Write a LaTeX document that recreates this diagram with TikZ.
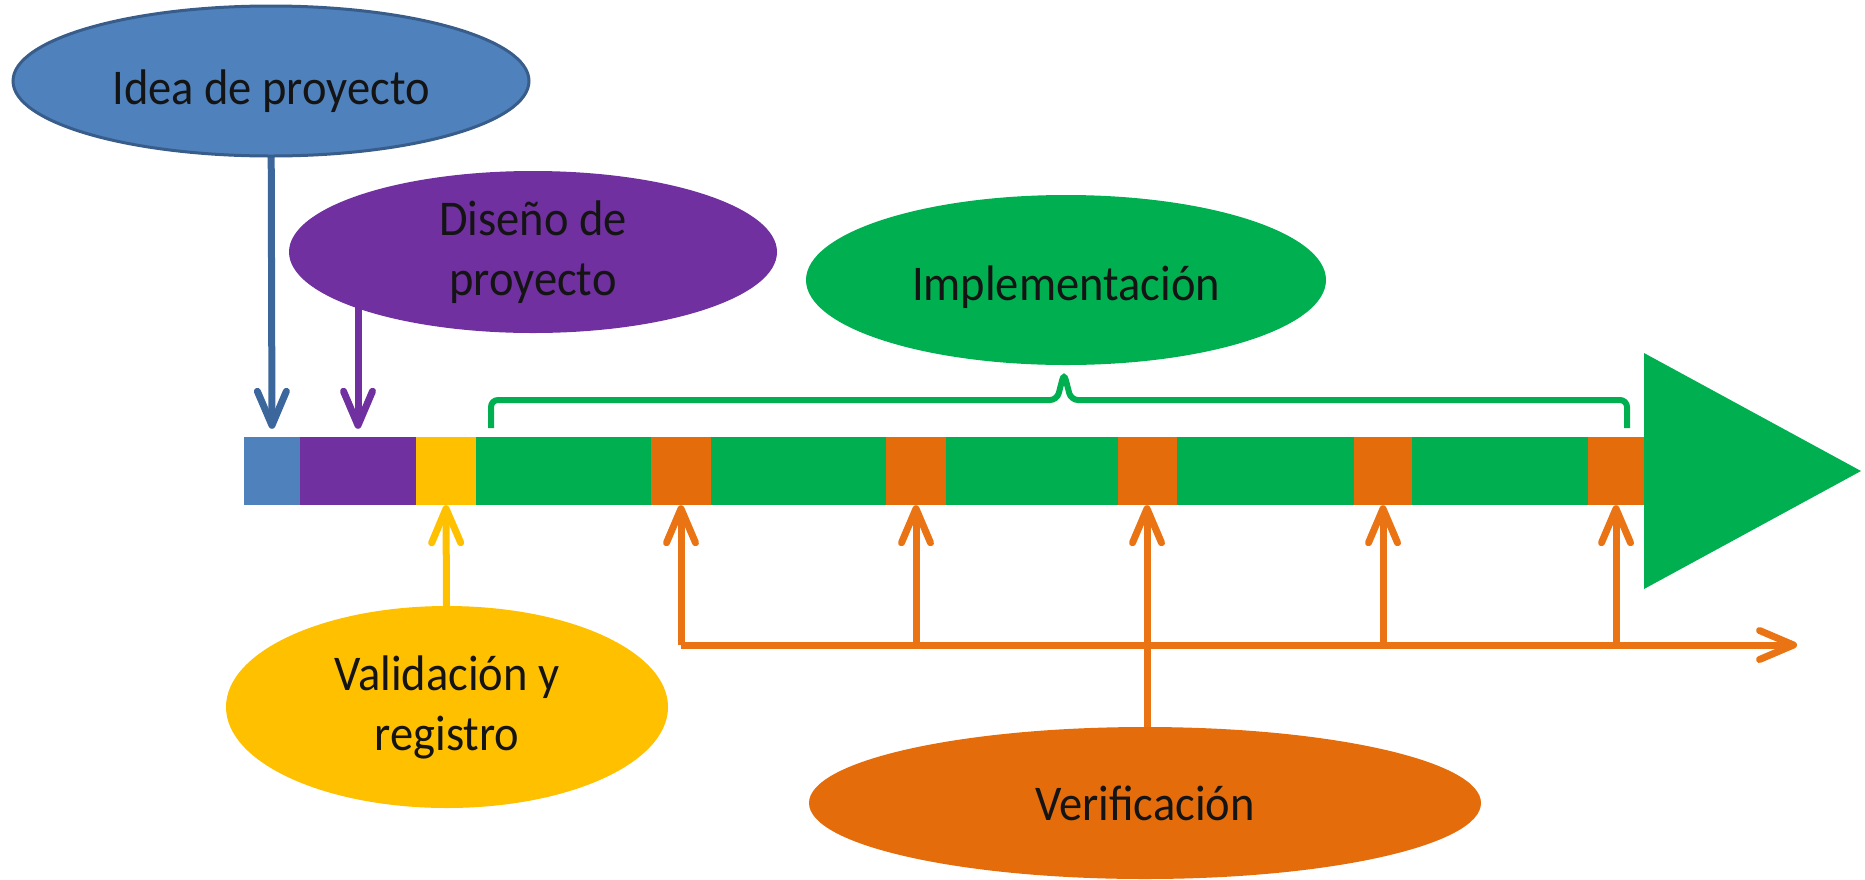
\documentclass[tikz,border=0pt]{standalone}
\usepackage{fontspec}
\setmainfont{Carlito}[FakeStretch=0.93]
\usetikzlibrary{shapes.geometric,arrows.meta,backgrounds}
\definecolor{cblue}{HTML}{4F81BD}
\definecolor{cblued}{HTML}{385D8A}
\definecolor{carrblue}{HTML}{3C679C}
\definecolor{cpurple}{HTML}{7030A0}
\definecolor{cyellow}{HTML}{FFC000}
\definecolor{cgreen}{HTML}{00B050}
\definecolor{corange}{HTML}{E46C0A}
\definecolor{carrow}{HTML}{EA7414}
\begin{document}
\begin{tikzpicture}[x=1pt,y=-1pt,
  bubble/.style={ellipse, inner sep=0pt, align=center, text=black!92,
    font=\fontsize{50}{60}\selectfont},
  seg/.style={rectangle, inner sep=0pt, minimum height=68pt, draw=none},
  arr/.style={line width=7pt, -{Straight Barb[length=34pt,width=29pt,round]}},
  plain/.style={line width=7pt}]
\useasboundingbox (0,0) rectangle (1865,879);
% bar segments
\node[seg, fill=cblue,   minimum width=57pt]  (blue)   at (272,471) {};
\node[seg, fill=cpurple, minimum width=117pt] (purple) at (358,471) {};
\node[seg, fill=cyellow, minimum width=61pt]  (yellow) at (446,471) {};
\node[seg, fill=cgreen,  minimum width=1170pt] (green) at (1061,471) {};
\node[seg, fill=corange, minimum width=60pt]  (o1) at (681,471) {};
\node[seg, fill=corange, minimum width=60pt]  (o2) at (916,471) {};
\node[seg, fill=corange, minimum width=59pt]  (o3) at (1147,471) {};
\node[seg, fill=corange, minimum width=58pt]  (o4) at (1383,471) {};
\node[seg, fill=corange, minimum width=57pt]  (o5) at (1616,471) {};
% big arrow head
\fill[cgreen] (1644,353) -- (1861,471) -- (1644,589) -- cycle;
% ellipses
\node[bubble, fill=cblue, draw=cblued, line width=3pt, minimum width=516pt, minimum height=150pt,
  text height=50pt, text depth=4pt] (idea) at (271,81) {Idea de proyecto};
\node[bubble, fill=cpurple, minimum width=488pt, minimum height=162pt] (dis) at (533,252) {Diseño de\\proyecto};
\node[bubble, fill=cgreen, minimum width=520pt, minimum height=170pt,
  text height=44pt, text depth=4pt] (impl) at (1066,280) {Implementación};
\node[bubble, fill=cyellow, minimum width=442pt, minimum height=202pt] (valid) at (447,707) {Validación y\\registro};
\node[bubble, fill=corange, minimum width=672pt, minimum height=152pt] (verif) at (1145,803) {Verificación};
% connectors
\begin{scope}[on background layer]
\draw[arr, carrblue, shorten >=8pt] (idea.center) -- (blue.north);
\draw[arr, cpurple, shorten >=8pt] (purple.north |- dis.center) -- (purple.north);
\draw[arr, cyellow] (valid.center) -- (yellow.south);
\draw[plain, carrow] (o3.south |- 0,645) -- (o3.south |- verif.center);
\end{scope}
\coordinate (hl) at (1797,645);
\draw[arr, carrow] (o1.south |- hl) -- (hl);
\foreach \o in {o1,o2,o3,o4,o5}
  \draw[arr, carrow] (\o.south |- hl) -- (\o.south);
% brace
\draw[line width=6pt, cgreen, rounded corners=7pt]
  (491,428) -- (491,400) -- (1057,400) -- (1064,373) -- (1071,400) -- (1627,400) -- (1627,428);
\end{tikzpicture}
\end{document}
